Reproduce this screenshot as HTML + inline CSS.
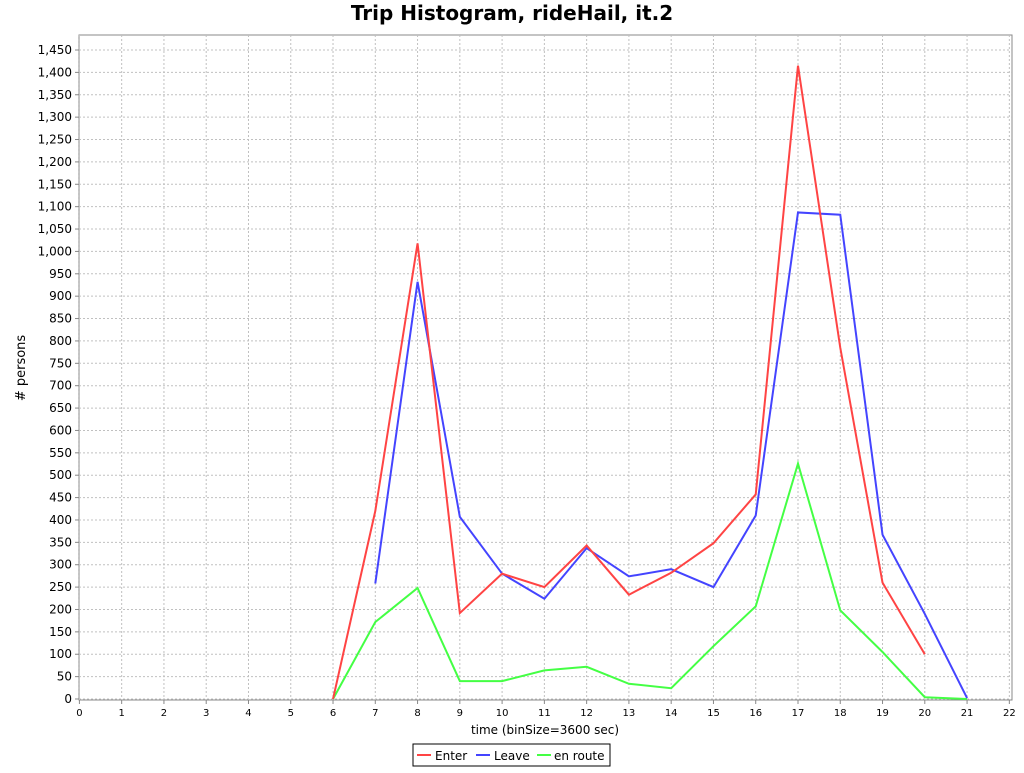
<!DOCTYPE html>
<html><head><meta charset="utf-8"><style>
body{margin:0;background:#fff;width:1024px;height:768px;overflow:hidden;font-family:"Liberation Sans","DejaVu Sans",sans-serif}
</style></head><body>
<svg id="chart" width="1024" height="768" xmlns="http://www.w3.org/2000/svg">
<text x="512" y="20" text-anchor="middle" font-size="20" font-weight="bold" font-family="DejaVu Sans, sans-serif">Trip Histogram, rideHail, it.2</text>
<rect x="79" y="35" width="933" height="665" fill="#fff" stroke="#888"/>
<g id="grid"></g><g id="axes"></g><g id="series"></g>
<text x="545" y="734" text-anchor="middle" font-size="12" font-family="DejaVu Sans, sans-serif">time (binSize=3600 sec)</text>
<text transform="translate(25,368) rotate(-90)" text-anchor="middle" font-size="13" font-family="DejaVu Sans, sans-serif"># persons</text>
<g>
<rect x="413" y="744" width="197" height="22" fill="#fff" stroke="#000"/>
<g><line x1="417" y1="755" x2="431" y2="755" stroke="#ff4444" stroke-width="2"/><text x="435" y="760" font-size="12" font-family="DejaVu Sans, sans-serif">Enter</text></g>
<g><line x1="476" y1="755" x2="490" y2="755" stroke="#4444ff" stroke-width="2"/><text x="494" y="760" font-size="12" font-family="DejaVu Sans, sans-serif">Leave</text></g>
<g><line x1="537" y1="755" x2="551" y2="755" stroke="#44ff44" stroke-width="2"/><text x="554" y="760" font-size="12" font-family="DejaVu Sans, sans-serif">en route</text></g>
</g>
</svg>
<script>
const enterHours=[6,7,8,9,10,11,12,13,14,15,16,17,18,19,20];
const enterValues=[0,420,1018,192,280,250,343,233,282,348,457,1415,785,260,100];
const leaveHours=[7,8,9,10,11,12,13,14,15,16,17,18,19,20,21];
const leaveValues=[258,932,407,280,224,337,274,290,250,410,1087,1082,367,190,2];
const routeHours=[6,7,8,9,10,11,12,13,14,15,16,17,18,19,20,21];
const routeValues=[0,172,248,40,40,64,72,34,24,118,207,526,198,105,4,0];
const xTicks=[0,1,2,3,4,5,6,7,8,9,10,11,12,13,14,15,16,17,18,19,20,21,22];
const yTicks=[0,50,100,150,200,250,300,350,400,450,500,550,600,650,700,750,800,850,900,950,1000,1050,1100,1150,1200,1250,1300,1350,1400,1450];
const NS="http://www.w3.org/2000/svg";
const xs=v=>79.4+v*42.27;
const ys=v=>699-v*(649/1450);
function mk(t,a,p){const e=document.createElementNS(NS,t);for(const k in a)e.setAttribute(k,a[k]);p.appendChild(e);return e;}
const grid=document.getElementById('grid'),axes=document.getElementById('axes'),ser=document.getElementById('series');
xTicks.forEach(v=>{const x=xs(v);
const g=mk('line',{x1:x,x2:x,y1:35,y2:700,stroke:'#c0c0c0','stroke-dasharray':'2,2'},grid);

mk('line',{x1:x,x2:x,y1:700,y2:704,stroke:'#888'},axes);
const t=mk('text',{x:x,y:716,'text-anchor':'middle','font-size':'10','font-family':'DejaVu Sans, sans-serif'},axes);t.textContent=v;
});
yTicks.forEach(v=>{const y=ys(v);
const g=mk('line',{x1:79,x2:1012,y1:y,y2:y,stroke:'#c0c0c0','stroke-dasharray':'2,2'},grid);

mk('line',{x1:75,x2:79,y1:y,y2:y,stroke:'#888'},axes);
const t=mk('text',{x:72,y:y+4,'text-anchor':'end','font-size':'12','font-family':'DejaVu Sans, sans-serif'},axes);t.textContent=v.toLocaleString('en-US');
});
function line(h,v,c,n){const p=mk('polyline',{points:h.map((x,i)=>xs(x)+','+ys(v[i])).join(' '),fill:'none',stroke:c,'stroke-width':2},ser);
}
line(routeHours,routeValues,'#44ff44','en-route-line');
line(leaveHours,leaveValues,'#4444ff','leave-line');
line(enterHours,enterValues,'#ff4444','enter-line');
</script>
</body></html>
